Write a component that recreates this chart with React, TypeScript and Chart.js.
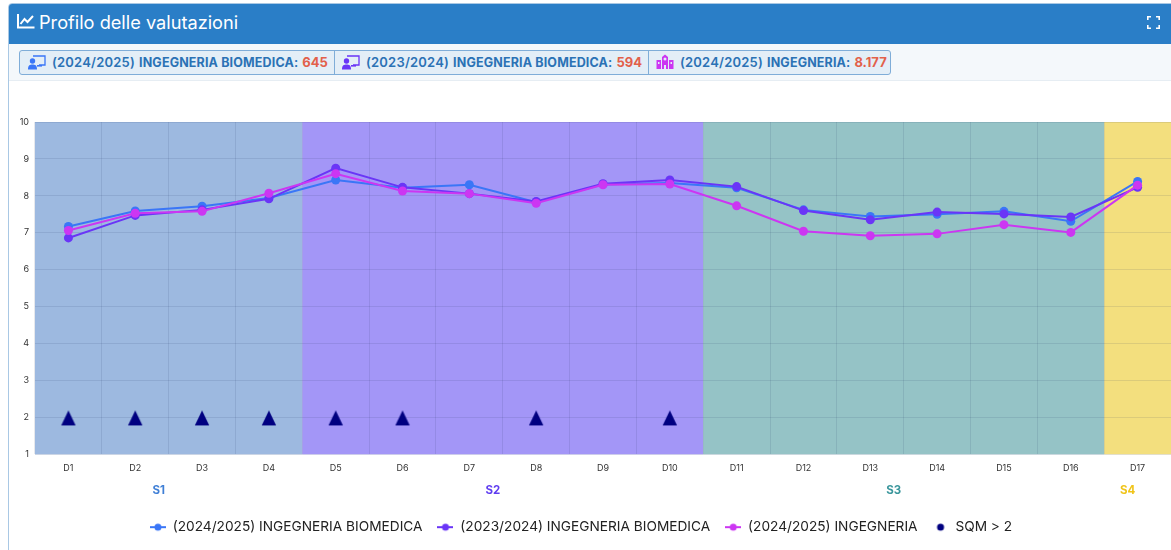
import React, { useEffect, useRef } from "react";
import { Chart, registerables } from "chart.js";

Chart.register(...registerables);

const categories = ["D1","D2","D3","D4","D5","D6","D7","D8","D9","D10","D11","D12","D13","D14","D15","D16","D17"];
const biomedica2425 = [7.17,7.59,7.72,7.94,8.43,8.22,8.30,7.83,8.31,8.35,8.22,7.62,7.44,7.50,7.58,7.31,8.39];
const biomedica2324 = [6.86,7.47,7.62,7.92,8.75,8.23,8.06,7.85,8.33,8.43,8.25,7.60,7.35,7.56,7.51,7.43,8.23];
const ingegneria2425 = [7.06,7.53,7.58,8.07,8.60,8.13,8.06,7.80,8.30,8.32,7.73,7.04,6.92,6.97,7.22,7.01,8.29];
const sqm = [2,2,2,2,2,2,null,2,null,2,null,null,null,null,null,null,null];
const seriesNames = ["(2024/2025) INGEGNERIA BIOMEDICA","(2023/2024) INGEGNERIA BIOMEDICA","(2024/2025) INGEGNERIA","SQM > 2"];
const seriesColors = ["#3a76f7","#6a35f7","#cc36f2","#000080"];
const sectionNames = ["S1","S2","S3","S4"];
const sectionStart = [0,4,10,16];
const sectionEnd = [3,9,15,16];
const sectionFill = ["#9db9e0","#a396f7","#95c3c6","#f3df7e"];
const sectionText = ["#3f7fd6","#5f3df0","#3a969c","#f0c419"];
const pills = [
  { label: "(2024/2025)", name: "INGEGNERIA BIOMEDICA:", n: "645", color: "#3a76f7", kind: "t", w: 314 },
  { label: "(2023/2024)", name: "INGEGNERIA BIOMEDICA:", n: "594", color: "#6a35f7", kind: "t", w: 314 },
  { label: "(2024/2025)", name: "INGEGNERIA:", n: "8.177", color: "#cc36f2", kind: "s", w: 242 },
];
const FONT = "Inter, 'Noto Sans', sans-serif";

function marker(color: string, line: boolean) {
  const c = document.createElement("canvas");
  c.width = 16; c.height = 10;
  const x = c.getContext("2d")!;
  x.fillStyle = color; x.strokeStyle = color;
  if (line) {
    x.lineWidth = 2;
    x.beginPath(); x.moveTo(0, 5); x.lineTo(16, 5); x.stroke();
  }
  x.beginPath(); x.arc(8, 5, 3.5, 0, Math.PI * 2); x.fill();
  return c;
}

function triangleMark(color: string) {
  const c = document.createElement("canvas");
  c.width = 16; c.height = 18;
  const x = c.getContext("2d")!;
  x.fillStyle = color;
  x.beginPath(); x.moveTo(8, 2); x.lineTo(15.2, 17); x.lineTo(0.8, 17); x.closePath(); x.fill();
  return c;
}

const sectionsPlugin = {
  id: "sections",
  afterLayout(chart: any) {
    chart.legend.right -= 26;
  },
  beforeDraw(chart: any) {
    const { ctx, chartArea: a, scales } = chart;
    const x = scales.x;
    const half = (x.getPixelForValue(1) - x.getPixelForValue(0)) / 2;
    ctx.save();
    sectionNames.forEach((_, i) => {
      const l = x.getPixelForValue(sectionStart[i]) - half;
      const r = x.getPixelForValue(sectionEnd[i]) + half;
      ctx.fillStyle = sectionFill[i];
      ctx.fillRect(l, a.top, r - l, a.bottom - a.top);
    });
    ctx.restore();
  },
  afterDraw(chart: any) {
    const { ctx, chartArea: a, scales } = chart;
    const x = scales.x;
    const half = (x.getPixelForValue(1) - x.getPixelForValue(0)) / 2;
    ctx.save();
    ctx.font = `700 11.5px ${FONT}`;
    ctx.textAlign = "center";
    ctx.textBaseline = "middle";
    sectionNames.forEach((s, i) => {
      const l = x.getPixelForValue(sectionStart[i]) - half;
      const r = x.getPixelForValue(sectionEnd[i]) + half;
      ctx.fillStyle = sectionText[i];
      ctx.fillText(s, (l + r) / 2 - 10, a.bottom + 36);
    });
    ctx.restore();
  },
};

function Icon({ kind, color }: { kind: string; color: string }) {
  if (kind === "s") {
    return (
      <svg width="18" height="16" viewBox="0 0 18 16" style={{ marginRight: 6, flex: "none" }}>
        <path fill={color} d="M6 3 L9 0.5 L12 3 V15 H6Z M0.5 6 H5 V15 H0.5Z M13 6 H17.5 V15 H13Z" />
        <circle cx="9" cy="5" r="1.5" fill="#e3eef7" />
        <rect x="8" y="11" width="2" height="4" fill="#e3eef7" />
        <rect x="2" y="8" width="1.5" height="2" fill="#e3eef7" />
        <rect x="14.5" y="8" width="1.5" height="2" fill="#e3eef7" />
      </svg>
    );
  }
  return (
    <svg width="18" height="15" viewBox="0 0 18 15" style={{ marginRight: 6, flex: "none" }}>
      <path fill="none" stroke={color} strokeWidth="1.3" d="M5 1 H17 V10 H11" />
      <circle cx="4.5" cy="6" r="2.7" fill={color} />
      <path fill={color} d="M0 14.5 C0 10 2 9.5 4.5 9.5 C7 9.5 9 10 9 14.5Z" />
      <rect x="9" y="10" width="5" height="1.6" fill={color} />
    </svg>
  );
}

export default function App() {
  const ref = useRef<HTMLCanvasElement>(null);
  useEffect(() => {
    const mk = (i: number, data: any[]) => ({
      type: "line",
      label: seriesNames[i],
      data,
      borderColor: seriesColors[i],
      backgroundColor: seriesColors[i],
      borderWidth: 2,
      pointRadius: 4.5,
      pointBorderWidth: 0,
      tension: 0,
      order: 3 - i,
    });
    const chart = new Chart(ref.current!, {
      type: "line",
      data: {
        labels: categories,
        datasets: [
          mk(0, biomedica2425),
          mk(1, biomedica2324),
          mk(2, ingegneria2425),
          {
            type: "line",
            label: seriesNames[3],
            data: sqm,
            showLine: false,
            pointStyle: triangleMark(seriesColors[3]),
            pointRadius: 8,
            borderWidth: 0,
            pointBorderWidth: 0,
            backgroundColor: seriesColors[3],
            borderColor: seriesColors[3],
            order: 0,
          },
        ] as any,
      },
      options: {
        responsive: false,
        animation: false,
        layout: { padding: { top: 42, left: 0, right: 0, bottom: 6 } },
        scales: {
          x: {
            type: "category",
            offset: true,
            grid: { color: "rgba(30,50,90,0.11)", drawTicks: false, offset: true },
            border: { display: false },
            ticks: { color: "#333", font: { size: 9, family: FONT }, maxRotation: 0, autoSkip: false, padding: 9 },
            afterFit(s: any) { s.height = 51; },
          },
          y: {
            min: 1,
            max: 10,
            grid: { color: "rgba(30,50,90,0.11)", drawTicks: false },
            border: { display: false },
            ticks: { stepSize: 1, color: "#333", font: { size: 9, family: FONT }, padding: 6 },
            afterFit(s: any) { s.width = 26; },
          },
        },
        plugins: {
          title: { display: false },
          tooltip: { enabled: false },
          legend: {
            position: "bottom",
            labels: {
              usePointStyle: true,
              pointStyleWidth: 16,
              padding: 15,
              color: "#222",
              font: { size: 13.7, family: FONT },
              generateLabels: () =>
                seriesNames.map((t, i) => ({
                  text: t,
                  fontColor: "#222",
                  fillStyle: seriesColors[i],
                  strokeStyle: seriesColors[i],
                  pointStyle: marker(seriesColors[i], i < 3),
                  datasetIndex: i,
                  hidden: false,
                  lineWidth: 0,
                })),
            },
          },
        },
      } as any,
      plugins: [sectionsPlugin],
    });
    return () => chart.destroy();
  }, []);

  return (
    <div style={{ position: "absolute", left: 0, top: 0, width: 1171, height: 550, overflow: "hidden", background: "#fff", fontFamily: FONT }}>
      <div style={{ position: "absolute", left: 8, top: 3, width: 1200, height: 600, border: "1px solid #a9c8e4", borderRadius: "4px 0 0 0", boxSizing: "border-box" }} />
      <div style={{ position: "absolute", left: 9, top: 4, width: 1162, height: 40, background: "#2a7ec7", borderRadius: "3px 0 0 0" }} />
      <svg width="18" height="16" viewBox="0 0 18 16" style={{ position: "absolute", left: 17, top: 13 }}>
        <path fill="none" stroke="#fff" strokeWidth="2" d="M1 1 V14.5 H17.5" />
        <path fill="none" stroke="#fff" strokeWidth="2" d="M3.5 11 L7.5 6 L10.5 9 L16 3" />
      </svg>
      <div style={{ position: "absolute", left: 39, top: 10, color: "#fff", fontSize: 18.2, lineHeight: "24px", whiteSpace: "nowrap" }}>Profilo delle valutazioni</div>
      <svg width="13" height="13" viewBox="0 0 13 13" style={{ position: "absolute", left: 1147, top: 16 }}>
        <path fill="none" stroke="#fff" strokeWidth="1.6" d="M0.8 4 V0.8 H4 M9 0.8 H12.2 V4 M12.2 9 V12.2 H9 M4 12.2 H0.8 V9" />
      </svg>
      <div style={{ position: "absolute", left: 9, top: 44, width: 1162, height: 37, background: "#f4f8fb", borderBottom: "1px solid #e6edf3", boxSizing: "border-box" }} />
      <div style={{ position: "absolute", left: 19, top: 50, height: 25, display: "flex", border: "1px solid #7fadd8", borderRadius: 3, background: "#e3eef7", boxSizing: "border-box" }}>
        {pills.map((p, i) => (
          <div key={i} style={{ width: p.w, display: "flex", alignItems: "center", paddingLeft: i === 0 ? 8 : 7, paddingBottom: 1, boxSizing: "border-box", borderLeft: i ? "1px solid #7fadd8" : "none", whiteSpace: "nowrap" }}>
            <Icon kind={p.kind} color={p.color} />
            <span style={{ color: "#2b72b5", fontSize: 13, fontWeight: 600, letterSpacing: 0.2, marginRight: 4 }}>{p.label}</span>
            <span style={{ color: "#2b72b5", fontSize: 12.5, fontWeight: 700, letterSpacing: 0.15, marginRight: 4 }}>{p.name}</span>
            <span style={{ color: "#e2604a", fontSize: 13, fontWeight: 700 }}>{p.n}</span>
          </div>
        ))}
      </div>
      <canvas ref={ref} width={1170} height={470} style={{ position: "absolute", left: 9, top: 80, display: "block" }} />
    </div>
  );
}
